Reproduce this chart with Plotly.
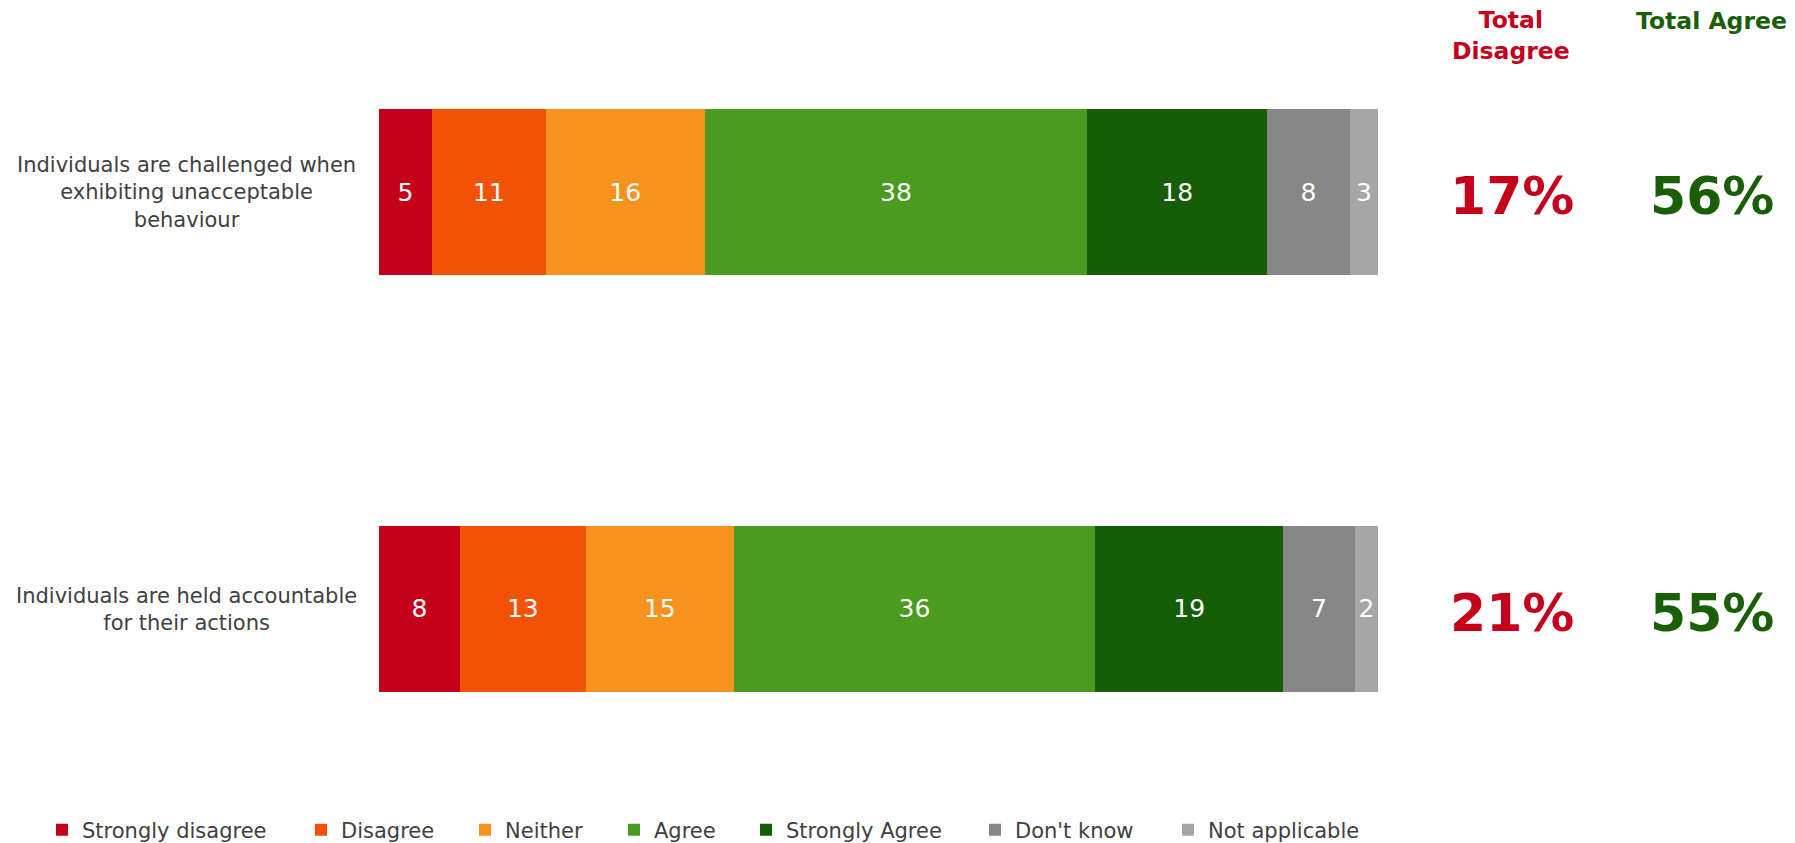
import plotly.graph_objects as go

categories = [
    "Individuals are challenged when<br>exhibiting unacceptable<br>behaviour",
    "Individuals are held accountable<br>for their actions",
]
series_names = ["Strongly disagree", "Disagree", "Neither", "Agree",
                "Strongly Agree", "Don't know", "Not applicable"]
series_colors = ["#C4001A", "#F05206", "#F6921E", "#4A9B1F",
                 "#155D06", "#878787", "#A6A6A6"]
# estimated percentages (row 1, row 2) per series
strongly_disagree = [5.3, 8.1]
disagree = [11.4, 12.6]
neither = [15.9, 14.8]
agree = [38.3, 36.2]
strongly_agree = [18.0, 18.8]
dont_know = [8.3, 7.2]
not_applicable = [2.8, 2.3]
# data labels as printed on the bars
labels_sd = ["5", "8"]
labels_d = ["11", "13"]
labels_n = ["16", "15"]
labels_a = ["38", "36"]
labels_sa = ["18", "19"]
labels_dk = ["8", "7"]
labels_na = ["3", "2"]
# summary columns
total_disagree = ["17%", "21%"]
total_agree = ["56%", "55%"]

series_values = [strongly_disagree, disagree, neither, agree,
                 strongly_agree, dont_know, not_applicable]
series_labels = [labels_sd, labels_d, labels_n, labels_a,
                 labels_sa, labels_dk, labels_na]

FONT = "Verdana, DejaVu Sans, sans-serif"
TXT = "#404040"

W, H = 1795, 843
L, R, T, B = 379, 417, 80, 122
pw = W - L - R
ph = H - T - B

def px_to_paper_x(p):
    return (p - L) / pw

def px_to_paper_y(p):
    return (H - B - p) / ph

fig = go.Figure()
legend_square_left = [58, 317, 481, 630, 762, 991, 1184]
for i, (name, col, vals, labs) in enumerate(zip(series_names, series_colors,
                                                 series_values, series_labels)):
    lg = "legend" if i == 0 else f"legend{i+1}"
    fig.add_trace(go.Bar(
        y=categories, x=vals, name=name, orientation="h",
        marker=dict(color=col, line=dict(width=0)),
        text=labs, textposition="inside", insidetextanchor="middle",
        textfont=dict(color="white", size=25, family=FONT),
        width=0.4, hoverinfo="skip", legend=lg,
    ))

legends = {}
for i, sq in enumerate(legend_square_left):
    key = "legend" if i == 0 else f"legend{i+1}"
    legends[key] = dict(
        x=px_to_paper_x(sq - 16), xanchor="left",
        y=px_to_paper_y(830), yanchor="middle",
        bgcolor="rgba(0,0,0,0)", borderwidth=0,
        font=dict(family=FONT, size=21, color=TXT),
        itemclick=False, itemdoubleclick=False,
    )

annotations = []
for cat in categories:
    annotations.append(dict(
        x=px_to_paper_x(186), xref="paper", y=cat, yref="y",
        text=cat, showarrow=False, xanchor="center", yanchor="middle",
        align="center", font=dict(family=FONT, size=21, color=TXT),
    ))
for cat, td, ta in zip(categories, total_disagree, total_agree):
    annotations.append(dict(
        x=px_to_paper_x(1512), xref="paper", y=cat, yref="y",
        text=f"<b>{td}</b>", showarrow=False, xanchor="center", yanchor="middle",
        yshift=-4, font=dict(family=FONT, size=52, color="#C4001A"),
    ))
    annotations.append(dict(
        x=px_to_paper_x(1712), xref="paper", y=cat, yref="y",
        text=f"<b>{ta}</b>", showarrow=False, xanchor="center", yanchor="middle",
        yshift=-4, font=dict(family=FONT, size=52, color="#1A5E08"),
    ))
annotations.append(dict(
    x=px_to_paper_x(1511), xref="paper", y=px_to_paper_y(35), yref="paper",
    text="<b>Total<br>Disagree</b>", showarrow=False, xanchor="center",
    yanchor="middle", align="center",
    font=dict(family=FONT, size=23.5, color="#C4001A"),
))
annotations.append(dict(
    x=px_to_paper_x(1711), xref="paper", y=px_to_paper_y(21), yref="paper",
    text="<b>Total Agree</b>", showarrow=False, xanchor="center",
    yanchor="middle", align="center",
    font=dict(family=FONT, size=23.5, color="#1A5E08"),
))

d = 0.2686
fig.update_layout(
    width=W, height=H, barmode="stack",
    margin=dict(l=L, r=R, t=T, b=B, pad=0, autoexpand=False),
    paper_bgcolor="white", plot_bgcolor="white",
    xaxis=dict(range=[0, 100], visible=False, fixedrange=True),
    yaxis=dict(type="category", categoryorder="array", categoryarray=categories,
               range=[1 + d, -d], showticklabels=False, showgrid=False,
               zeroline=False, showline=False, ticks="", fixedrange=True),
    uniformtext=dict(mode="show", minsize=25),
    annotations=annotations,
    showlegend=True,
    **legends,
)

fig.write_html("out.html", config={"displayModeBar": False},
               post_script="document.body.style.margin='0';document.body.style.overflow='hidden';")
